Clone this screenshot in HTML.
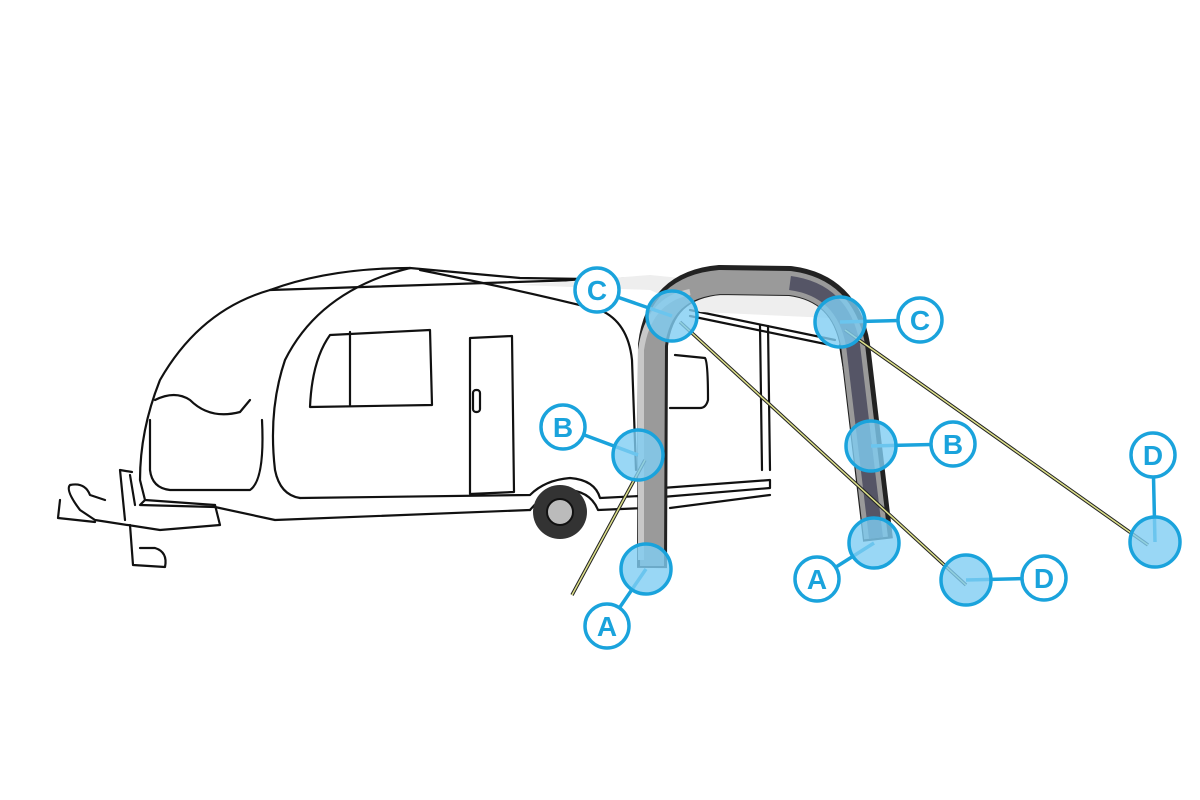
<!DOCTYPE html>
<html><head><meta charset="utf-8"><style>
html,body{margin:0;padding:0;background:#fff;width:1200px;height:800px;overflow:hidden}
svg{display:block}
</style></head><body>
<svg width="1200" height="800" viewBox="0 0 1200 800" xmlns="http://www.w3.org/2000/svg">
<g fill="none" stroke="#111" stroke-width="2.2" stroke-linejoin="round" stroke-linecap="round">
<!-- caravan roof/body -->
<path d="M655,280 L520,278 L410,268 Q330,268 270,290 Q200,310 160,380 Q140,430 140,480 L145,500 L215,505"/>
<path d="M410,268 Q320,290 285,360 Q268,410 275,470 Q280,495 300,498"/>
<path d="M270,290 L640,278"/>
<path d="M420,270 Q520,290 600,310 Q628,322 632,360 L636,470"/>
<path d="M155,400 Q175,390 190,400 Q210,420 240,412 L250,400"/>
<path d="M150,420 L150,470 Q152,488 170,490 L250,490 Q265,480 262,420"/>
<path d="M145,500 L140,505 L215,507 L275,520 L530,510"/>
<path d="M300,498 L530,495 Q545,480 570,478 Q595,480 600,498 L640,496"/>
<path d="M662,497 L770,488 L770,480 L662,488"/>
<path d="M530,510 Q545,492 565,490 Q590,490 598,510 L645,508"/>
<path d="M670,508 L770,495"/>
<!-- windows -->
<path d="M330,335 L430,330 L432,405 L310,407 Q312,360 330,335 Z"/>
<path d="M350,332 L350,405"/>
<path d="M470,338 L512,336 L514,492 L470,494 Z"/>
<rect x="473" y="390" width="7" height="22" rx="3"/>
<path d="M675,355 L705,358 Q708,362 708,400 Q706,408 700,408 L670,408"/>
<!-- drawbar -->
<path d="M215,505 L220,525 L160,530 L95,520 L80,510 Q65,490 70,485 Q85,482 90,495 L105,500"/>
<path d="M60,500 L58,518 L95,522"/>
<path d="M120,470 L125,520 M130,475 L135,505 M120,470 L132,472"/>
<path d="M130,525 L133,565 L165,567 Q168,552 155,548 L140,548"/>
<!-- canopy lines -->
<path d="M690,310 L835,340 M690,316 L835,346"/>
<path d="M760,325 L762,470 M768,326 L770,470"/>
<path d="M840,345 L870,530"/>
</g>
<!-- canopy shade -->
<path d="M520,285 L650,290 L700,312 L830,318 L800,290 L650,275 Z" fill="#eee"/>
<!-- wheel -->
<circle cx="560" cy="512" r="27" fill="#333"/>
<circle cx="560" cy="512" r="13" fill="#bbb" stroke="#111" stroke-width="2"/>
<!-- arch -->
<path d="M652,568 L653,345 Q660,285 720,280 L790,281 Q845,288 855,345 L878,540" fill="none" stroke="#222" stroke-width="30" stroke-linejoin="round"/>
<path d="M652,566 L653,345 Q660,287 720,282 L790,283 Q843,290 853,345 L876,538" fill="none" stroke="#9a9a9a" stroke-width="24" stroke-linejoin="round"/>
<path d="M790,283 Q843,290 853,345 L876,538" fill="none" stroke="#556" stroke-width="14"/>
<path d="M641,560 L641,350 Q648,300 690,292" fill="none" stroke="#c8c8c8" stroke-width="6"/>
<!-- guy lines -->
<g stroke="#222" stroke-width="3.5" fill="none"><path d="M680,322 L966,585"/><path d="M845,330 L1148,545"/><path d="M645,460 L572,595"/></g>
<g stroke="#dde08a" stroke-width="1.5" fill="none"><path d="M680,322 L966,585"/><path d="M845,330 L1148,545"/><path d="M645,460 L572,595"/></g>
<!-- callouts -->
<g stroke="#1aa3dc" stroke-width="3.5">
<path d="M597,290 L672,316 M920,320 L840,322 M563,427 L638,455 M953,444 L871,446 M607,626 L646,569 M817,579 L874,543 M1044,578 L966,580 M1153,455 L1155,542"/>
<g fill="#7fcdf2" fill-opacity="0.8">
<circle cx="672" cy="316" r="25"/><circle cx="840" cy="322" r="25"/><circle cx="638" cy="455" r="25"/><circle cx="871" cy="446" r="25"/>
<circle cx="646" cy="569" r="25"/><circle cx="874" cy="543" r="25"/><circle cx="966" cy="580" r="25"/><circle cx="1155" cy="542" r="25"/>
</g>
<g fill="#fff">
<circle cx="597" cy="290" r="22"/><circle cx="920" cy="320" r="22"/><circle cx="563" cy="427" r="22"/><circle cx="953" cy="444" r="22"/>
<circle cx="607" cy="626" r="22"/><circle cx="817" cy="579" r="22"/><circle cx="1044" cy="578" r="22"/><circle cx="1153" cy="455" r="22"/>
</g>
</g>
<g font-family="Liberation Sans, sans-serif" font-weight="bold" font-size="28" fill="#1aa3dc" text-anchor="middle">
<text x="597" y="300">C</text><text x="920" y="330">C</text><text x="563" y="437">B</text><text x="953" y="454">B</text>
<text x="607" y="636">A</text><text x="817" y="589">A</text><text x="1044" y="588">D</text><text x="1153" y="465">D</text>
</g>
</svg>
</body></html>
